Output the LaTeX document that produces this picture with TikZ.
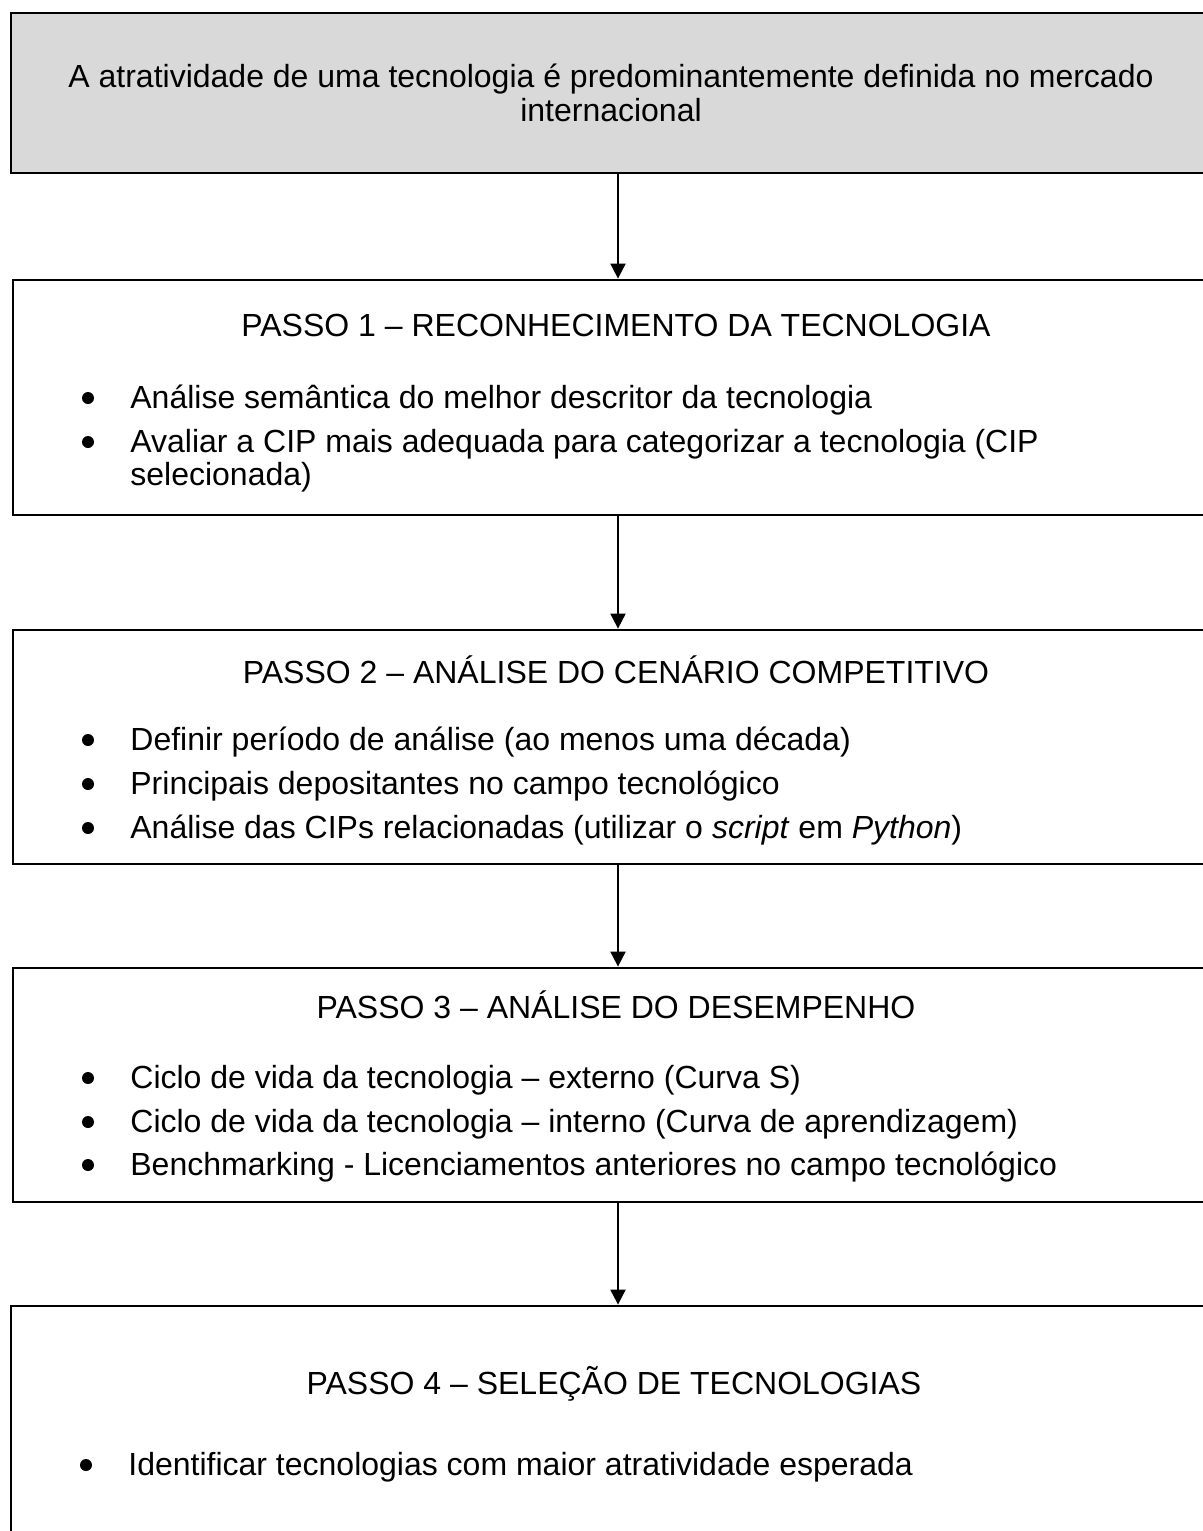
\documentclass[tikz,border=0pt]{standalone}
\usepackage{fontspec}
\setmainfont{Liberation Sans}
\usetikzlibrary{arrows.meta}
\definecolor{boxgray}{HTML}{D9D9D9}
\begin{document}
\begin{tikzpicture}[x=0.5pt,y=-0.5pt,
  stage/.style={draw=black, line width=1.4pt, rectangle, inner sep=0pt, minimum width=605pt},
  txt/.style={inner sep=0pt, font=\fontsize{16}{19}\selectfont},
  ttl/.style={txt, anchor=base},
  item/.style={txt, anchor=base west},
  dot/.style={circle, fill=black, inner sep=0pt, minimum size=6pt},
  flow/.style={-{Triangle[width=7.5pt,length=7.5pt]}, line width=1pt}]
\useasboundingbox (0,0) rectangle (1203,1531);

% boxes
\node[stage, fill=boxgray, minimum width=607pt, minimum height=80pt] (b0) at (618,93) {};
\node[stage, minimum height=117.5pt] (b1) at (618,397.5) {};
\node[stage, minimum height=117pt] (b2) at (618,747) {};
\node[stage, minimum height=117pt] (b3) at (618,1085) {};
\node[stage, minimum width=607pt, minimum height=137pt] (b4) at (618,1443) {};

% connectors
\draw[flow] (b0.south) -- (b1.north);
\draw[flow] (b1.south) -- (b2.north);
\draw[flow] (b2.south) -- (b3.north);
\draw[flow] (b3.south) -- (b4.north);

% top statement
\node[ttl] (t0a) at (611,87) {A atratividade de uma tecnologia é predominantemente definida no mercado};
\node[ttl] (t0b) at (611,121) {internacional};

% step 1
\node[ttl] (h1) at (616,336) {PASSO 1 – RECONHECIMENTO DA TECNOLOGIA};
\node[dot] (d11) at (88,398) {};
\node[item] (i11) at (130,408) {Análise semântica do melhor descritor da tecnologia};
\node[dot] (d12) at (88,442) {};
\node[item] (i12) at (130,452) {Avaliar a CIP mais adequada para categorizar a tecnologia (CIP};
\node[item] (i12b) at (130,485) {selecionada)};

% step 2
\node[ttl] (h2) at (616,683) {PASSO 2 – ANÁLISE DO CENÁRIO COMPETITIVO};
\node[dot] (d21) at (88,740) {};
\node[item] (i21) at (130,750) {Definir período de análise (ao menos uma década)};
\node[dot] (d22) at (88,784) {};
\node[item] (i22) at (130,794) {Principais depositantes no campo tecnológico};
\node[dot] (d23) at (88,828) {};
\node[item] (i23) at (130,838) {Análise das CIPs relacionadas (utilizar o \textit{script} em \textit{Python})};

% step 3
\node[ttl] (h3) at (616,1018) {PASSO 3 – ANÁLISE DO DESEMPENHO};
\node[dot] (d31) at (88,1078) {};
\node[item] (i31) at (130,1088) {Ciclo de vida da tecnologia – externo (Curva S)};
\node[dot] (d32) at (88,1122) {};
\node[item] (i32) at (130,1132) {Ciclo de vida da tecnologia – interno (Curva de aprendizagem)};
\node[dot] (d33) at (88,1165) {};
\node[item] (i33) at (130,1175) {Benchmarking - Licenciamentos anteriores no campo tecnológico};

% step 4
\node[ttl] (h4) at (614,1394) {PASSO 4 – SELEÇÃO DE TECNOLOGIAS};
\node[dot] (d41) at (86,1465) {};
\node[item] (i41) at (128,1475) {Identificar tecnologias com maior atratividade esperada};
\end{tikzpicture}
\end{document}
